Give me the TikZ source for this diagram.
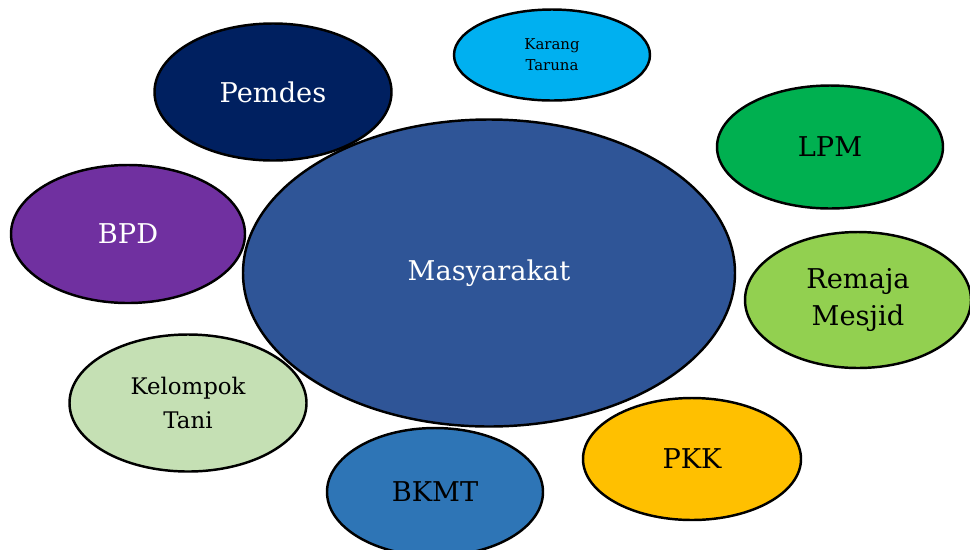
\documentclass[tikz,border=0pt]{standalone}
\usepackage{fontspec}
\setmainfont{DejaVu Serif}
\usepackage{tikz}
\usetikzlibrary{shapes.geometric}
\usepackage{xcolor}
\definecolor{Navy}{HTML}{002060}
\definecolor{SkyBlue}{HTML}{00B0F0}
\definecolor{Green}{HTML}{00B050}
\definecolor{Purple}{HTML}{7030A0}
\definecolor{CoreBlue}{HTML}{2F5597}
\definecolor{Lime}{HTML}{92D050}
\definecolor{Sage}{HTML}{C5E0B4}
\definecolor{MidBlue}{HTML}{2E75B6}
\definecolor{Amber}{HTML}{FFC000}

\begin{document}
\begin{tikzpicture}[x=0.02cm,y=-0.02cm,
  blob/.style={ellipse,draw=black,line width=1.4pt,inner sep=0pt,align=center,
    font=\fontsize{15.5}{21.5}\selectfont},
  lightlabel/.style={text=white}]
  \useasboundingbox (0,0) rectangle (970,549);
  % central group
  \node[blob,fill=CoreBlue,lightlabel,minimum width=492*0.02cm,minimum height=307*0.02cm]
    (masy) at (489,273) {Masyarakat};
  % surrounding groups
  \node[blob,fill=Navy,lightlabel,minimum width=237*0.02cm,minimum height=137*0.02cm]
    (pemdes) at (273,92) {Pemdes};
  \node[blob,fill=SkyBlue,font=\fontsize{8.5}{12}\selectfont,
    minimum width=196*0.02cm,minimum height=91*0.02cm]
    (karang) at (552,55) {Karang\\Taruna};
  \node[blob,fill=Green,minimum width=226*0.02cm,minimum height=123*0.02cm]
    (lpm) at (830,147) {LPM};
  \node[blob,fill=Purple,lightlabel,minimum width=234*0.02cm,minimum height=138*0.02cm]
    (bpd) at (128,234) {BPD};
  \node[blob,fill=Lime,minimum width=226*0.02cm,minimum height=136*0.02cm]
    (remaja) at (858,300) {Remaja\\Mesjid};
  \node[blob,fill=Sage,font=\fontsize{13}{19}\selectfont,
    minimum width=237*0.02cm,minimum height=137*0.02cm]
    (tani) at (188,403) {Kelompok\\Tani};
  \node[blob,fill=MidBlue,minimum width=216*0.02cm,minimum height=128*0.02cm]
    (bkmt) at (435,492) {BKMT};
  \node[blob,fill=Amber,minimum width=218*0.02cm,minimum height=122*0.02cm]
    (pkk) at (692,459) {PKK};
\end{tikzpicture}
\end{document}
